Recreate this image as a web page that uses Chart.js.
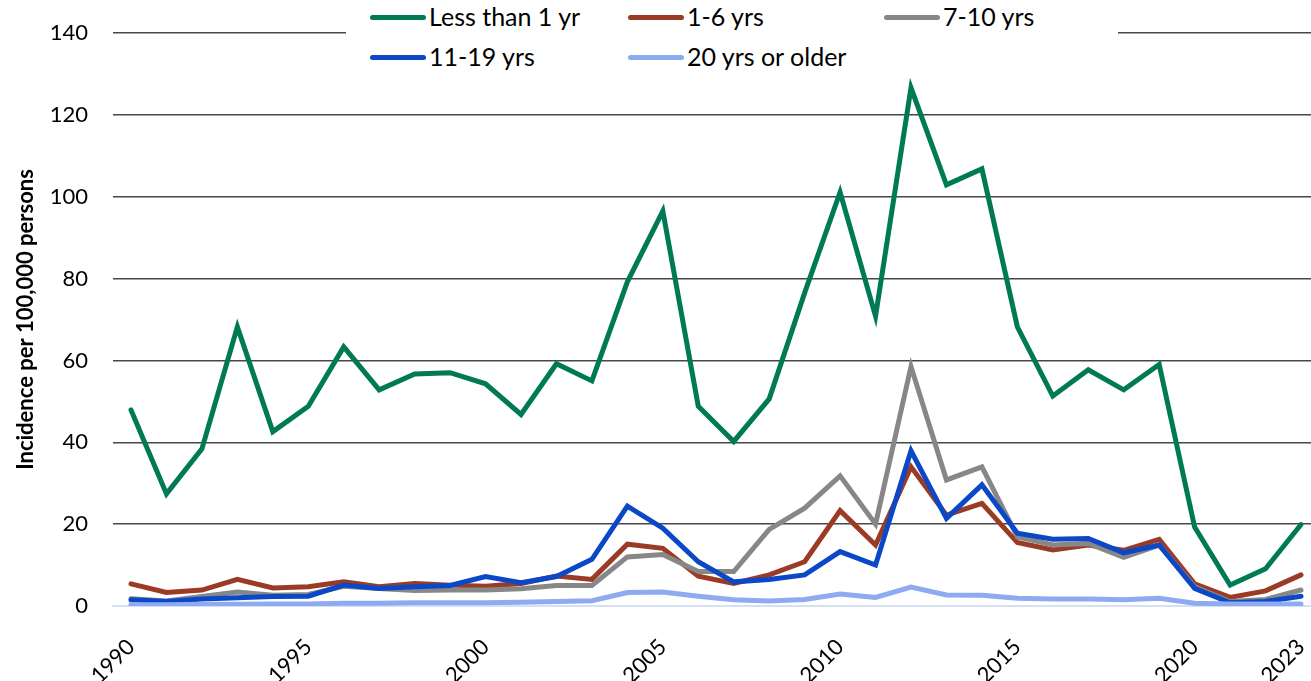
<!DOCTYPE html>
<html>
<head>
<meta charset="utf-8">
<script src="https://cdn.jsdelivr.net/npm/chart.js@4/dist/chart.umd.min.js"></script>
<style>
  html, body { margin: 0; padding: 0; background: #fff; overflow: hidden; }
  #wrap { position: relative; width: 1311px; height: 681px; }
  #legend {
    position: absolute; left: 346px; top: 0; width: 772px; height: 74px;
    background: #fff; font-family: Lato, "Open Sans", sans-serif; font-size: 25px; color: #000;
  }
  .item { position: absolute; height: 40px; white-space: nowrap; }
  .item .swatch { position: absolute; left: 0; width: 56px; height: 5px; border-radius: 3px; }
  .item .txt { position: absolute; left: 59px; line-height: 25px; }
</style>
</head>
<body>
<div id="wrap">
  <canvas id="chart" width="1311" height="681"></canvas>
  <div id="legend"></div>
</div>
<script>
// Incidence per 100,000 persons, by age group, 1990-2023
const years = [1990, 1991, 1992, 1993, 1994, 1995, 1996, 1997, 1998, 1999,
               2000, 2001, 2002, 2003, 2004, 2005, 2006, 2007, 2008, 2009,
               2010, 2011, 2012, 2013, 2014, 2015, 2016, 2017, 2018, 2019,
               2020, 2021, 2022, 2023];

const lessThan1 = [47.9, 27.4, 38.4, 68.2, 42.6, 48.8, 63.3, 52.8, 56.7, 57.0,
                   54.3, 46.8, 59.2, 55.0, 79.2, 96.5, 48.8, 40.2, 50.6, 76.5,
                   101.1, 70.8, 126.6, 102.9, 106.8, 68.2, 51.3, 57.7, 52.8, 59.0,
                   19.3, 5.1, 9.1, 19.9];
const age1to6 = [5.4, 3.3, 3.9, 6.5, 4.4, 4.7, 5.9, 4.7, 5.5, 5.1,
                 4.8, 5.5, 7.3, 6.5, 15.1, 14.1, 7.3, 5.5, 7.6, 10.8,
                 23.3, 14.9, 34.0, 22.2, 25.1, 15.5, 13.7, 14.9, 13.6, 16.3,
                 5.4, 2.1, 3.7, 7.6];
const age7to10 = [1.8, 1.2, 2.3, 3.4, 2.6, 2.8, 4.8, 4.3, 3.8, 3.9,
                  3.9, 4.2, 5.0, 5.0, 12.0, 12.6, 8.4, 8.4, 18.7, 23.9,
                  31.8, 20.0, 58.5, 30.8, 34.0, 16.9, 14.9, 15.3, 11.9, 14.9,
                  4.7, 1.1, 1.6, 3.9];
const age11to19 = [1.5, 1.1, 1.7, 2.0, 2.3, 2.4, 5.1, 4.3, 4.7, 5.0,
                   7.2, 5.7, 7.2, 11.4, 24.4, 19.0, 10.8, 5.9, 6.5, 7.6,
                   13.3, 10.0, 37.9, 21.4, 29.6, 17.8, 16.3, 16.5, 13.0, 14.9,
                   4.3, 0.8, 1.1, 2.4];
const age20plus = [0.3, 0.3, 0.4, 0.4, 0.5, 0.5, 0.7, 0.7, 0.8, 0.8,
                   0.8, 0.9, 1.1, 1.3, 3.3, 3.4, 2.4, 1.5, 1.2, 1.6,
                   2.9, 2.1, 4.6, 2.7, 2.6, 1.9, 1.7, 1.7, 1.5, 1.9,
                   0.7, 0.5, 0.5, 0.5];

const seriesLabels = ['Less than 1 yr', '1-6 yrs', '7-10 yrs', '11-19 yrs', '20 yrs or older'];
const seriesColors = ['#007a55', '#9c3b25', '#878787', '#0a48c8', '#8eaaf0'];
const seriesValues = [lessThan1, age1to6, age7to10, age11to19, age20plus];

const xTickYears = [1990, 1995, 2000, 2005, 2010, 2015, 2020, 2023];
const yTicks = [0, 20, 40, 60, 80, 100, 120, 140];

const FONT = 'Lato, "Open Sans", sans-serif';

const datasets = seriesLabels.map((label, i) => ({
  label,
  data: years.map((y, k) => ({ x: y, y: seriesValues[i][k] })),
  borderColor: seriesColors[i],
  backgroundColor: seriesColors[i],
  borderWidth: 5,
  pointRadius: 0,
  borderCapStyle: 'round',
  borderJoinStyle: 'miter',
  tension: 0,
  fill: false,
  // earlier series sit underneath later ones
  order: seriesLabels.length - i
}));

const chart = new Chart(document.getElementById('chart'), {
  type: 'line',
  data: { datasets },
  options: {
    responsive: false,
    animation: false,
    layout: { autoPadding: false, padding: { left: 13, top: 33, right: 0, bottom: 0 } },
    plugins: {
      legend: { display: false },
      tooltip: { enabled: false }
    },
    scales: {
      x: {
        type: 'linear',
        min: 1989.492,
        max: 2023.282,
        afterBuildTicks: (scale) => { scale.ticks = xTickYears.map(v => ({ value: v })); },
        afterFit: (scale) => { scale.height = 75; scale.paddingRight = 0; scale.paddingLeft = 0; },
        grid: { display: false, drawTicks: false },
        border: { display: true, color: '#d6e0f4', width: 2 },
        ticks: {
          autoSkip: false,
          minRotation: 45,
          maxRotation: 45,
          padding: 28,
          color: '#000',
          font: { family: FONT, size: 22 },
          callback: (v) => String(v)
        }
      },
      y: {
        min: 0,
        max: 140,
        afterBuildTicks: (scale) => { scale.ticks = yTicks.map(v => ({ value: v })); },
        afterFit: (scale) => { scale.width = 100; scale.paddingTop = 0; scale.paddingBottom = 0; },
        grid: {
          drawTicks: false,
          lineWidth: 1.5,
          color: (ctx) => (ctx.tick && ctx.tick.value === 0) ? 'rgba(0,0,0,0)' : '#474747'
        },
        border: { display: false },
        ticks: {
          padding: 25,
          color: '#000',
          font: { family: FONT, size: 22 }
        },
        title: {
          display: true,
          text: 'Incidence per 100,000 persons',
          color: '#000',
          font: { family: FONT, size: 22, weight: 'bold' },
          padding: { top: 0, bottom: 0 }
        }
      }
    }
  }
});

// Legend laid out in fixed columns, built from the chart's datasets
const legendEl = document.getElementById('legend');
const colLeft = [24, 282, 538];
const rowMid = [17, 57];
chart.data.datasets.forEach((ds, i) => {
  const row = Math.floor(i / 3), col = i % 3;
  const item = document.createElement('div');
  item.className = 'item';
  item.style.left = colLeft[col] + 'px';
  item.style.top = '0px';
  const sw = document.createElement('span');
  sw.className = 'swatch';
  sw.style.background = ds.borderColor;
  sw.style.top = (rowMid[row] - 2.5) + 'px';
  const tx = document.createElement('span');
  tx.className = 'txt';
  tx.textContent = ds.label;
  tx.style.top = (rowMid[row] - 13) + 'px';
  item.appendChild(sw);
  item.appendChild(tx);
  legendEl.appendChild(item);
});
</script>
</body>
</html>
